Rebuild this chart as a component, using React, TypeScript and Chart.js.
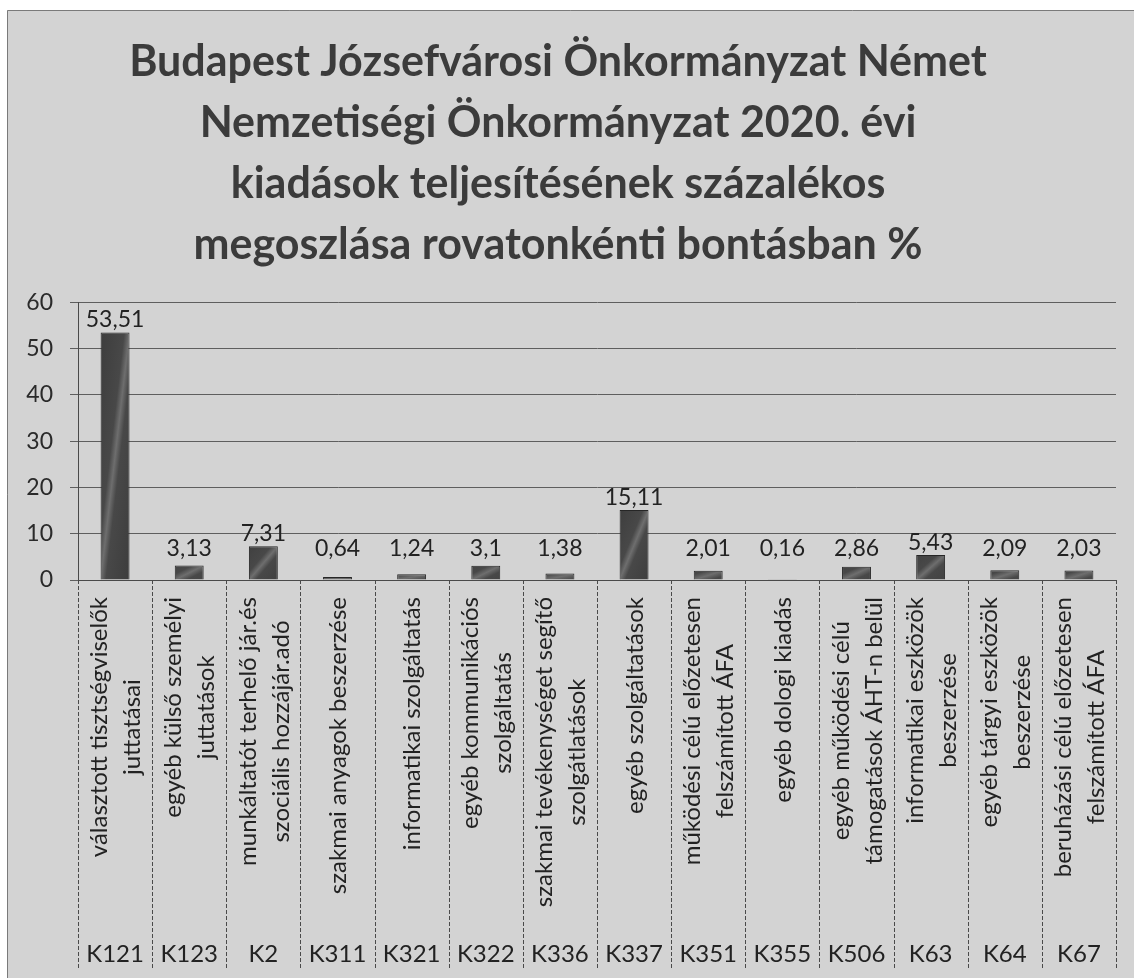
import React, { useEffect, useRef } from 'react';
import { Chart, registerables } from 'chart.js';

Chart.register(...registerables);

const titleLines = [
  'Budapest Józsefvárosi Önkormányzat Német',
  'Nemzetiségi Önkormányzat 2020. évi',
  'kiadások teljesítésének százalékos',
  'megoszlása rovatonkénti bontásban %',
];

const codes = ['K121', 'K123', 'K2', 'K311', 'K321', 'K322', 'K336', 'K337', 'K351', 'K355', 'K506', 'K63', 'K64', 'K67'];

const descriptions: string[][] = [
  ['választott tisztségviselők', 'juttatásai'],
  ['egyéb külső személyi', 'juttatások'],
  ['munkáltatót terhelő jár.és', 'szociális hozzájár.adó'],
  ['szakmai anyagok beszerzése'],
  ['informatikai szolgáltatás'],
  ['egyéb kommunikációs', 'szolgáltatás'],
  ['szakmai tevékenységet segítő', 'szolgátlatások'],
  ['egyéb szolgáltatások'],
  ['működési célú előzetesen', 'felszámított ÁFA'],
  ['egyéb dologi kiadás'],
  ['egyéb működési célú', 'támogatások ÁHT-n belül'],
  ['informatikai eszközök', 'beszerzése'],
  ['egyéb tárgyi eszközök', 'beszerzése'],
  ['beruházási célú előzetesen', 'felszámított ÁFA'],
];

const values = [53.51, 3.13, 7.31, 0.64, 1.24, 3.1, 1.38, 15.11, 2.01, 0.16, 2.86, 5.43, 2.09, 2.03];

const yTicks = [0, 10, 20, 30, 40, 50, 60];

const FONT = 'Lato, "Open Sans", sans-serif';

const fmt = (v: number) => String(v).replace('.', ',');

const backgroundPlugin = {
  id: 'bg',
  beforeDraw(chart: any) {
    const { ctx, width, height } = chart;
    ctx.save();
    ctx.fillStyle = '#ffffff';
    ctx.fillRect(0, 0, width, height);
    ctx.fillStyle = '#d3d3d3';
    ctx.fillRect(7, 10, width - 7, height - 10);
    ctx.strokeStyle = '#7a7a7a';
    ctx.lineWidth = 1;
    ctx.beginPath();
    ctx.moveTo(7.5, height);
    ctx.lineTo(7.5, 10.5);
    ctx.lineTo(width, 10.5);
    ctx.stroke();
    ctx.restore();
  },
};

const categoryPlugin = {
  id: 'categories',
  afterDraw(chart: any) {
    const { ctx, chartArea } = chart;
    const xs = chart.scales.x;
    const n = codes.length;
    const step = xs.getPixelForValue(1) - xs.getPixelForValue(0);
    const top = chartArea.bottom;
    const bottom = xs.bottom;
    ctx.save();
    ctx.strokeStyle = '#4a4a4a';
    ctx.lineWidth = 1;
    ctx.setLineDash([4, 2]);
    for (let i = 0; i <= n; i++) {
      const px = Math.round(xs.getPixelForValue(i) - step / 2) + 0.5;
      ctx.beginPath();
      ctx.moveTo(px, top);
      ctx.lineTo(px, bottom);
      ctx.stroke();
    }
    ctx.setLineDash([]);
    ctx.fillStyle = '#222222';
    ctx.font = `24px ${FONT}`;
    const lh = 33;
    for (let i = 0; i < n; i++) {
      const cx = xs.getPixelForValue(i);
      const lines = descriptions[i];
      const maxW = Math.max(...lines.map((l) => ctx.measureText(l).width));
      ctx.save();
      ctx.translate(cx + 1, top + 17);
      ctx.rotate(-Math.PI / 2);
      ctx.textAlign = 'center';
      ctx.textBaseline = 'middle';
      lines.forEach((l, k) => {
        ctx.fillText(l, -maxW / 2, (k - (lines.length - 1) / 2) * lh);
      });
      ctx.restore();
    }
    ctx.font = `24px ${FONT}`;
    ctx.textAlign = 'center';
    ctx.textBaseline = 'alphabetic';
    for (let i = 0; i < n; i++) {
      ctx.fillText(codes[i], xs.getPixelForValue(i), bottom - 8);
    }
    ctx.restore();
  },
};

const valueLabelPlugin = {
  id: 'valueLabels',
  afterDatasetsDraw(chart: any) {
    const { ctx } = chart;
    const ys = chart.scales.y;
    const meta = chart.getDatasetMeta(0);
    const floor = ys.getPixelForValue(5.0);
    ctx.save();
    ctx.font = `23px ${FONT}`;
    ctx.fillStyle = '#222222';
    ctx.textAlign = 'center';
    ctx.textBaseline = 'bottom';
    meta.data.forEach((el: any, i: number) => {
      const y = Math.min(floor, el.y - 4);
      ctx.fillText(fmt(values[i]), el.x, y + 3);
    });
    ctx.restore();
  },
};

function barFill(c: any) {
  const solid = '#474747';
  const chart = c.chart;
  if (c.type !== 'data' || !chart.scales || !chart.scales.x || !chart.scales.y) return solid;
  const xs = chart.scales.x;
  const ys = chart.scales.y;
  const i = c.dataIndex;
  const step = xs.getPixelForValue(1) - xs.getPixelForValue(0);
  const w = step * 0.39;
  const cx = xs.getPixelForValue(i);
  const yTop = ys.getPixelForValue(values[i]);
  const yBase = ys.getPixelForValue(0);
  const nums = [step, cx, yTop, yBase];
  if (!nums.every((v) => Number.isFinite(v)) || w <= 0) return solid;
  const h = Math.max(1, yBase - yTop);
  const cy = (yTop + yBase) / 2;
  let px = h;
  let py = w;
  const len = Math.hypot(px, py) || 1;
  px /= len;
  py /= len;
  const span = w * 0.9;
  const coords = [cx - px * span, cy - py * span, cx + px * span, cy + py * span];
  if (!coords.every((v) => Number.isFinite(v))) return solid;
  const g = chart.ctx.createLinearGradient(coords[0], coords[1], coords[2], coords[3]);
  g.addColorStop(0, '#3e3e3e');
  g.addColorStop(0.4, '#484848');
  g.addColorStop(0.5, '#6e6e6e');
  g.addColorStop(0.6, '#484848');
  g.addColorStop(1, '#3e3e3e');
  return g;
}

export default function App() {
  const ref = useRef<HTMLCanvasElement | null>(null);

  useEffect(() => {
    document.body.style.margin = '0';
    const canvas = ref.current;
    if (!canvas) return;
    const chart = new Chart(canvas, {
      type: 'bar',
      data: {
        labels: codes,
        datasets: [
          {
            data: values,
            backgroundColor: barFill as any,
            borderColor: '#262626',
            borderWidth: 1,
            barPercentage: 0.39,
            categoryPercentage: 1,
          },
        ],
      },
      options: {
        responsive: false,
        animation: false,
        devicePixelRatio: 1,
        layout: { padding: { left: 0, right: 18, top: 0, bottom: 8 } },
        plugins: {
          legend: { display: false },
          tooltip: { enabled: false },
          title: {
            display: true,
            text: titleLines,
            color: '#3b3b3b',
            font: { family: FONT, size: 43, weight: 'bold', lineHeight: 1.415 },
            padding: { top: 32, bottom: 27 },
          },
        },
        scales: {
          x: {
            type: 'category',
            grid: { display: false },
            border: { display: true, color: '#4a4a4a' },
            ticks: { display: false },
            afterFit: (s: any) => {
              s.height = 390;
            },
          },
          y: {
            min: 0,
            max: 60,
            afterBuildTicks: (s: any) => {
              s.ticks = yTicks.map((v) => ({ value: v }));
            },
            grid: { color: '#5e5e5e', lineWidth: 1, tickLength: 8, drawTicks: true },
            border: { display: true, color: '#4a4a4a' },
            ticks: {
              color: '#2a2a2a',
              padding: 17,
              font: { family: FONT, size: 23 },
            },
            afterFit: (s: any) => {
              s.width = 78;
            },
          },
        },
      },
      plugins: [backgroundPlugin, categoryPlugin, valueLabelPlugin],
    });
    return () => chart.destroy();
  }, []);

  return (
    <div style={{ width: 1134, height: 978 }}>
      <canvas ref={ref} width={1134} height={978} style={{ display: 'block', width: 1134, height: 978 }} />
    </div>
  );
}
